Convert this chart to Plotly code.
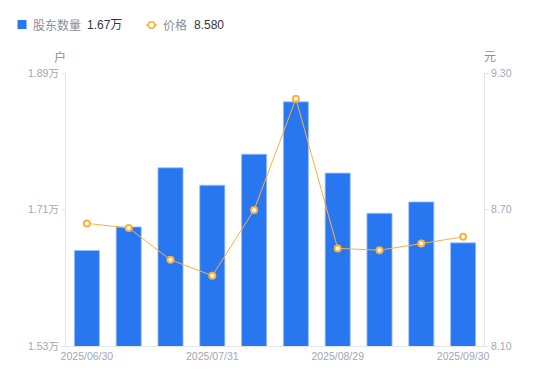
import plotly.graph_objects as go

dates = ["2025/06/30", "2025/07/10", "2025/07/18", "2025/07/31", "2025/08/08",
         "2025/08/15", "2025/08/29", "2025/09/10", "2025/09/19", "2025/09/30"]
holders = [16560, 16870, 17650, 17420, 17830, 18520, 17580, 17050, 17200, 16660]
prices = [8.639, 8.619, 8.479, 8.409, 8.698, 9.187, 8.529, 8.521, 8.550, 8.580]
tick_dates = ["2025/06/30", "2025/07/31", "2025/08/29", "2025/09/30"]
left_ticks = [15300, 17100, 18900]
left_labels = ["1.53万", "1.71万", "1.89万"]
right_ticks = [8.10, 8.70, 9.30]
right_labels = ["8.10", "8.70", "9.30"]
legend_holders = "1.67万"
legend_price = "8.580"

FONT = "Liberation Sans, Noto Sans CJK SC, sans-serif"
TICK_COLOR = "#a3a6b4"
AXIS_LINE = "#e3e4e8"
BLUE = "#2877f1"
ORANGE = "#fbb13c"
NAME_COLOR = "#8a8d99"
VALUE_COLOR = "#33353c"

fig = go.Figure()
fig.add_trace(go.Bar(
    x=dates, y=holders, yaxis="y", name="股东数量",
    marker=dict(color=BLUE, line=dict(color="#9cc0f8", width=0.8)),
    width=0.6,
))
fig.add_trace(go.Scatter(
    x=dates, y=prices, yaxis="y2", mode="lines+markers", name="价格",
    line=dict(color=ORANGE, width=1),
    marker=dict(color="white", size=6, line=dict(color=ORANGE, width=2)),
))

# page has an 8px body margin: figure occupies page (8..550, 8..381)
L, R, T, B = 57.5, 65.5, 65, 35

def ann(text, xs, ys, color, size=12, xanchor="left"):
    return dict(text=text, xref="paper", yref="paper", x=0, y=1, xanchor=xanchor,
                yanchor="middle", xshift=xs, yshift=ys, showarrow=False,
                font=dict(size=size, color=color, family=FONT))

annotations = [
    ann("户", -6.5, 16, NAME_COLOR, 12, "center"),
    dict(text="元", xref="paper", yref="paper", x=1, y=1, xanchor="center",
         yanchor="middle", xshift=5.5, yshift=16, showarrow=False,
         font=dict(size=12, color=NAME_COLOR, family=FONT)),
    ann("股东数量", -35.5, 48, NAME_COLOR),
    ann(legend_holders, 18.5, 48, VALUE_COLOR),
    ann("价格", 94.5, 48, NAME_COLOR),
    ann(legend_price, 125.5, 48, VALUE_COLOR),
]

shapes = [
    dict(type="rect", xref="paper", yref="paper", xsizemode="pixel", ysizemode="pixel",
         xanchor=0, yanchor=1, x0=-48.5, x1=-39.5, y0=44, y1=53,
         fillcolor=BLUE, line=dict(width=0)),
    dict(type="line", xref="paper", yref="paper", xsizemode="pixel", ysizemode="pixel",
         xanchor=0, yanchor=1, x0=80, x1=91, y0=48, y1=48,
         line=dict(color=ORANGE, width=1.5)),
    dict(type="circle", xref="paper", yref="paper", xsizemode="pixel", ysizemode="pixel",
         xanchor=0, yanchor=1, x0=82.3, x1=88.7, y0=44.8, y1=51.2,
         fillcolor="white", line=dict(color=ORANGE, width=1.6)),
]

fig.update_layout(
    width=542, height=373,
    margin=dict(l=L, r=R, t=T, b=B, autoexpand=False),
    paper_bgcolor="white", plot_bgcolor="white",
    font=dict(family=FONT, size=11, color=TICK_COLOR),
    showlegend=False,
    bargap=0.4,
    xaxis=dict(
        type="category", categoryorder="array", categoryarray=dates,
        range=[-0.5, len(dates) - 0.5],
        tickmode="array", tickvals=tick_dates, ticktext=tick_dates,
        showline=True, linecolor=AXIS_LINE, linewidth=1,
        ticks="", showgrid=False, zeroline=False, automargin=False,
        tickfont=dict(size=10.5, color=TICK_COLOR),
    ),
    yaxis=dict(
        range=[15300, 18900], tickvals=left_ticks, ticktext=left_labels,
        showline=True, linecolor=AXIS_LINE, linewidth=1,
        ticks="outside", ticklen=4, tickcolor=AXIS_LINE,
        showgrid=False, zeroline=False, automargin=False,
        tickfont=dict(size=10.5, color=TICK_COLOR),
    ),
    yaxis2=dict(
        range=[8.10, 9.30], tickvals=right_ticks, ticktext=right_labels,
        overlaying="y", side="right",
        showline=True, linecolor=AXIS_LINE, linewidth=1,
        ticks="outside", ticklen=4, tickcolor=AXIS_LINE,
        showgrid=False, zeroline=False, automargin=False,
        tickfont=dict(size=10.5, color=TICK_COLOR),
    ),
    annotations=annotations,
    shapes=shapes,
)

fig.write_html("out.html")
